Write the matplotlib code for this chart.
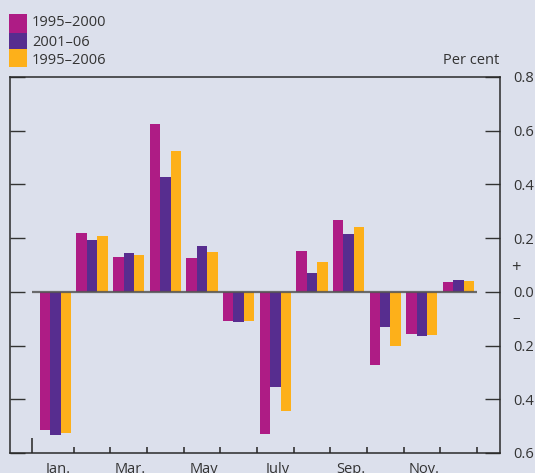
import matplotlib
matplotlib.use("Agg")
import matplotlib.pyplot as plt
import matplotlib.transforms as mtransforms
from matplotlib.patches import Rectangle
import numpy as np

plt.rcParams['font.family'] = ['Open Sans', 'DejaVu Sans']

months = ['Jan.', 'Feb.', 'Mar.', 'Apr.', 'May', 'June', 'July', 'Aug.', 'Sep.', 'Oct.', 'Nov.', 'Dec.']
shown_months = ['Jan.', '', 'Mar.', '', 'May', '', 'July', '', 'Sep.', '', 'Nov.', '']
series_names = ['1995–2000', '2001–06', '1995–2006']
s_1995_2000 = [-0.513, 0.219, 0.130, 0.625, 0.126, -0.108, -0.528, 0.151, 0.267, -0.272, -0.156, 0.036]
s_2001_06 = [-0.532, 0.193, 0.145, 0.428, 0.171, -0.112, -0.356, 0.070, 0.215, -0.130, -0.163, 0.044]
s_1995_2006 = [-0.524, 0.208, 0.138, 0.524, 0.149, -0.107, -0.442, 0.110, 0.241, -0.201, -0.160, 0.040]
ytick_values = [0.8, 0.6, 0.4, 0.2, 0.0, -0.2, -0.4, -0.6]
ytick_labels = ['0.8', '0.6', '0.4', '0.2', '0.0', '0.2', '0.4', '0.6']

colors = ['#AE1C85', '#572D8F', '#FDB01A']
bg = '#DCE0EC'
txt = '#333333'

W, H = 535, 473
fig = plt.figure(figsize=(W / 100, H / 100), dpi=100, facecolor=bg)
ax = fig.add_axes([10 / W, 1 - 453 / H, (499.5 - 10) / W, (453 - 77) / H])
ax.set_facecolor(bg)

x = np.arange(len(months))
w = 0.285
for k, vals in enumerate([s_1995_2000, s_2001_06, s_1995_2006]):
    ax.bar(x + (k - 1) * w, vals, width=w, color=colors[k], zorder=2, linewidth=0)

ax.hlines(0, -0.64, 11.5, color='#555555', lw=1.6, alpha=0.85, zorder=3)

ax.set_xlim(-1.242, 12.12)
ax.set_ylim(-0.6, 0.8)

for sp in ax.spines.values():
    sp.set_color('#2a2a2a')
    sp.set_linewidth(1.1)

# y ticks: both sides, inward
ax.set_yticks(ytick_values)
ax.set_yticklabels(ytick_labels)
ax.yaxis.set_ticks_position('both')
ax.tick_params(axis='y', direction='in', length=10.5, width=1.0, color='#333333',
               labelleft=False, labelright=True, pad=10, labelsize=10.5, labelcolor=txt)
# '+' and '–' markers
tr = mtransforms.blended_transform_factory(ax.transAxes, ax.transData)
ax.text(1.0 + 16.5 / (489.5), 0.09, '+', transform=tr, ha='center', va='center', fontsize=12, color=txt)
ax.text(1.0 + 16.5 / (489.5), -0.10, '–', transform=tr, ha='center', va='center', fontsize=11, color=txt)

# x ticks: boundaries between months, inward
ax.set_xticks(x + 0.5)
ax.set_xticklabels([])
ax.tick_params(axis='x', which='major', direction='in', length=4.5, width=1.2, color='#333333')
ax.set_xticks([-0.64], minor=True)
ax.tick_params(axis='x', which='minor', direction='in', length=10.5, width=1.2, color='#333333')
trx = mtransforms.blended_transform_factory(ax.transData, ax.transAxes)
for i, lab in enumerate(shown_months):
    if lab:
        ax.text(x[i] + 0.05, -9 / 376, lab, transform=trx, ha='center', va='top', fontsize=10.5, color=txt)

fig.text(499.5 / W, 1 - 60 / H, 'Per cent', ha='right', va='center', fontsize=10.5, color=txt)

# legend
patch_y = [(14, 33), (33, 49), (49, 66.7)]
text_y = [22, 42.5, 61]
for k in range(3):
    y0, y1 = patch_y[k]
    fig.patches.append(Rectangle((9 / W, 1 - y1 / H), 17.5 / W, (y1 - y0) / H,
                                 transform=fig.transFigure, color=colors[k], lw=0))
    fig.text(32 / W, 1 - text_y[k] / H, series_names[k], ha='left', va='center', fontsize=10.5, color=txt)

fig.savefig('out.png', dpi=100, facecolor=bg)
